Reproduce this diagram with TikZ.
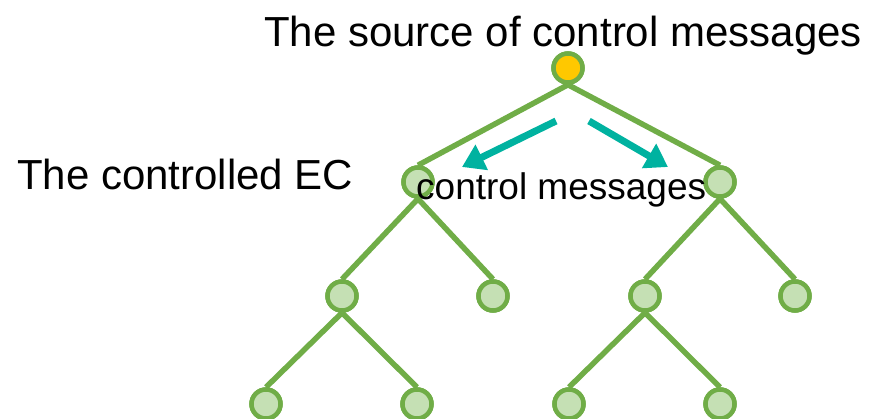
\documentclass[tikz,border=0pt]{standalone}
\usepackage{fontspec}
\setmainfont{Liberation Sans}
\usetikzlibrary{arrows.meta}
\definecolor{treegreen}{RGB}{112,173,71}
\definecolor{leafgreen}{RGB}{197,224,180}
\definecolor{rootyellow}{RGB}{255,200,0}
\definecolor{teal}{RGB}{0,178,160}
\tikzset{
  ec/.style={circle, draw=treegreen, fill=leafgreen, line width=4.5pt, minimum size=29pt, inner sep=0pt},
  src/.style={ec, fill=rootyellow},
  edge/.style={draw=treegreen, line width=5.5pt},
  msg/.style={draw=teal, line width=7pt, -{Triangle[length=22pt,width=27pt]}},
  lbl/.style={inner sep=0pt, font=\fontsize{42}{46}\selectfont, anchor=base west},
  lblsmall/.style={inner sep=0pt, font=\fontsize{37}{40}\selectfont, anchor=base west}
}
\begin{document}
\begin{tikzpicture}[x=1pt,y=-1pt]
\useasboundingbox (0,0) rectangle (875,419);
% node positions
\coordinate (pr) at (568,68);
\coordinate (pa) at (418,182);
\coordinate (pb) at (720,182);
\coordinate (pa1) at (342,296);
\coordinate (pa2) at (493,296);
\coordinate (pb1) at (645,296);
\coordinate (pb2) at (795,296);
\coordinate (pa11) at (266,404);
\coordinate (pa12) at (417,404);
\coordinate (pb11) at (569,404);
\coordinate (pb12) at (720,404);
% nodes
\node[src] (r) at (pr) {};
\node[ec] (a) at (pa) {};
\node[ec] (b) at (pb) {};
\node[ec] (a1) at (pa1) {};
\node[ec] (a2) at (pa2) {};
\node[ec] (b1) at (pb1) {};
\node[ec] (b2) at (pb2) {};
\node[ec] (a11) at (pa11) {};
\node[ec] (a12) at (pa12) {};
\node[ec] (b11) at (pb11) {};
\node[ec] (b12) at (pb12) {};
% edges
\path[edge] (r.south) -- (a.north);
\path[edge] (r.south) -- (b.north);
\path[edge] (a.south) -- (a1.north);
\path[edge] (a.south) -- (a2.north);
\path[edge] (b.south) -- (b1.north);
\path[edge] (b.south) -- (b2.north);
\path[edge] (a1.south) -- (a11.north);
\path[edge] (a1.south) -- (a12.north);
\path[edge] (b1.south) -- (b11.north);
\path[edge] (b1.south) -- (b12.north);
% redraw nodes on top of edges
\node[src] at (r) {};
\node[ec] at (a) {};
\node[ec] at (b) {};
\node[ec] at (a1) {};
\node[ec] at (a2) {};
\node[ec] at (b1) {};
\node[ec] at (b2) {};
\node[ec] at (a11) {};
\node[ec] at (a12) {};
\node[ec] at (b11) {};
\node[ec] at (b12) {};
% arrows
\coordinate (l0) at (556,121);
\coordinate (l1) at (462,167);
\coordinate (r0) at (589,121);
\coordinate (r1) at (668,167);
\draw[msg] (l0) -- (l1);
\draw[msg] (r0) -- (r1);
% labels
\node[lbl] (t1) at (264,47) {The source of control messages};
\node[lbl] (t2) at (17,190) {The controlled EC};
\node[lblsmall] (t3) at (416,200) {control messages};
\end{tikzpicture}
\end{document}
